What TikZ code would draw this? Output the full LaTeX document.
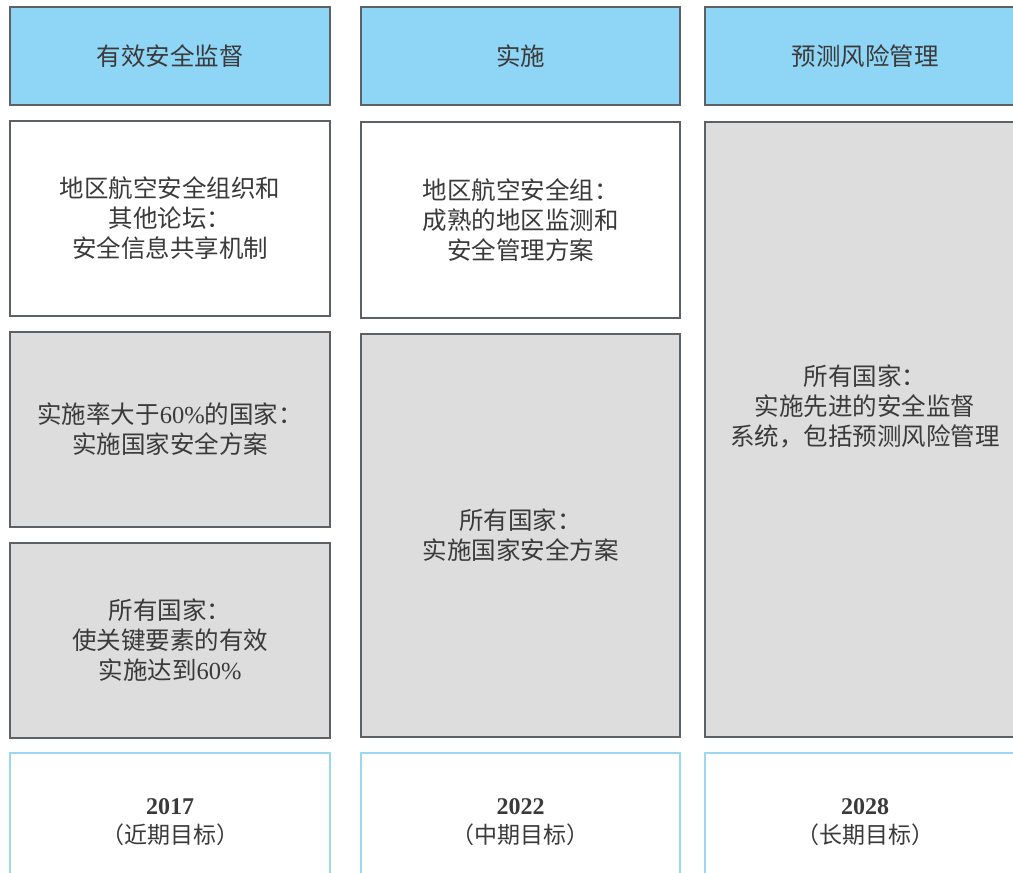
\documentclass[tikz,border=0pt]{standalone}
\usepackage{fontspec}
\setmainfont{Liberation Serif}
\newfontfamily\cjk{Noto Sans CJK SC}
\usetikzlibrary{positioning}

\definecolor{headblue}{HTML}{8FD5F5}
\definecolor{boxgray}{HTML}{DDDDDD}
\definecolor{edgegray}{HTML}{5C6166}
\definecolor{yearblue}{HTML}{9CD7F2}
\definecolor{textgray}{HTML}{3A3A3A}

\newcommand{\yearstrut}{\rule{0pt}{25pt}}

\tikzset{
  basebox/.style={draw=edgegray, line width=1.6pt, outer sep=0pt, inner sep=0pt,
    minimum width=320pt, text=textgray, align=center,
    font=\cjk\fontsize{24.5}{30}\selectfont},
  headbox/.style={basebox, fill=headblue, minimum height=98pt},
  whitebox/.style={basebox, fill=white},
  graybox/.style={basebox, fill=boxgray},
  yearbox/.style={basebox, draw=yearblue, line width=2.6pt, fill=white,
    minimum height=130pt, font=\fontsize{24}{29}\selectfont},
  node distance=16pt
}

\begin{document}
\begin{tikzpicture}[x=1pt,y=-1pt]
  \useasboundingbox (0,0) rectangle (1013,873);
  \clip (0,0) rectangle (1013,873);

  % Headers
  \node[headbox, anchor=north west] (head1) at (10,7) {有效安全监督};
  \node[headbox, anchor=north west, minimum width=319pt] (head2) at (361,7) {实施};
  \node[headbox, anchor=north west] (head3) at (705,7) {预测风险管理};

  % Near term
  \node[whitebox, minimum height=195pt, below=16pt of head1] (reg1)
    {地区航空安全组织和\\其他论坛：\\安全信息共享机制};
  \node[graybox, minimum height=195pt, below=16pt of reg1] (ssp1)
    {实施率大于{\rmfamily 60\%}的国家：\\实施国家安全方案};
  \node[graybox, minimum height=195pt, below=16pt of ssp1] (ei1)
    {所有国家：\\使关键要素的有效\\实施达到{\rmfamily 60\%}};
  \node[yearbox, below=15pt of ei1] (year1)
    {\yearstrut\textbf{2017}\\{\cjk\fontsize{23}{29}\selectfont（近期目标）}};

  % Mid term
  \node[whitebox, minimum width=319pt, minimum height=196pt, below=17pt of head2] (reg2)
    {地区航空安全组：\\成熟的地区监测和\\安全管理方案};
  \node[graybox, minimum width=319pt, minimum height=403pt, below=16pt of reg2] (ssp2)
    {所有国家：\\实施国家安全方案};
  \node[yearbox, minimum width=319pt, below=16pt of ssp2] (year2)
    {\yearstrut\textbf{2022}\\{\cjk\fontsize{23}{29}\selectfont（中期目标）}};

  % Long term
  \node[graybox, minimum height=615pt, below=17pt of head3] (adv3) {};
  \node[text=textgray, align=center, font=\cjk\fontsize{24.5}{30}\selectfont]
    (advtext) at ([yshift=23pt]adv3.center)
    {所有国家：\\实施先进的安全监督\\系统，包括预测风险管理};
  \node[yearbox, below=16pt of adv3] (year3)
    {\yearstrut\textbf{2028}\\{\cjk\fontsize{23}{29}\selectfont（长期目标）}};
\end{tikzpicture}
\end{document}
